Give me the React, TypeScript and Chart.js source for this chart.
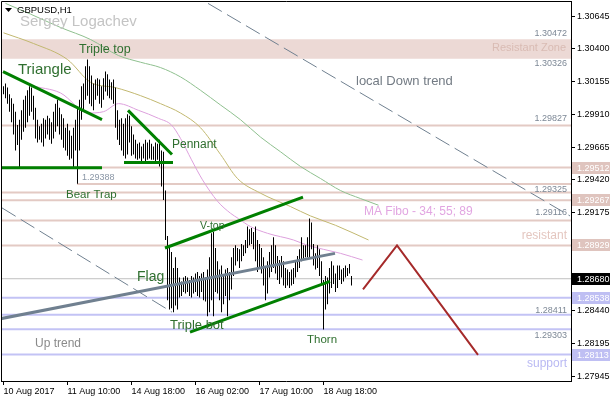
import React, { useEffect, useRef } from 'react';
import { Chart, registerables } from 'chart.js';

Chart.register(...registerables);

// ---------- data ----------
const xTickIndex = [0, 32, 64, 96, 128, 160];
const xTickLabels = ['10 Aug 2017', '11 Aug 10:00', '14 Aug 18:00', '16 Aug 02:00', '17 Aug 10:00', '18 Aug 18:00'];

const yTickValues = [1.30645, 1.304, 1.30155, 1.2991, 1.29665, 1.2942, 1.29175, 1.2844, 1.28195, 1.27945];
const yTickLabels = ['1.30645', '1.30400', '1.30155', '1.29910', '1.29665', '1.29420', '1.29175', '1.28440', '1.28195', '1.27945'];

const highs = [
  1.3012, 1.3014, 1.3011, 1.3006, 1.3003, 1.2999, 1.2993, 1.2983, 1.2987, 1.2994,
  1.3002, 1.3005, 1.3009, 1.3012, 1.3011, 1.3005, 1.2996, 1.2987, 1.2982, 1.2984,
  1.2988, 1.2987, 1.2990, 1.2988, 1.2985, 1.2993, 1.2999, 1.3002, 1.2996, 1.2991,
  1.2988, 1.2981, 1.2984, 1.2979, 1.2975, 1.2981, 1.2987, 1.2996, 1.3002, 1.3012,
  1.3014, 1.3027, 1.3032, 1.3027, 1.3020, 1.3014, 1.3017, 1.3018, 1.3017, 1.3012,
  1.3018, 1.3023, 1.3021, 1.3017, 1.3015, 1.3017, 1.3011, 1.2994, 1.2987, 1.2988,
  1.2984, 1.2988, 1.2991, 1.2990, 1.2982, 1.2976, 1.2972, 1.2969, 1.2970, 1.2967,
  1.2969, 1.2972, 1.2970, 1.2972, 1.2969, 1.2967, 1.2970, 1.2969, 1.2972, 1.2964,
  1.2963, 1.2934, 1.2900, 1.2893, 1.2888, 1.2876, 1.2884, 1.2876, 1.2869, 1.2866,
  1.2869, 1.2870, 1.2869, 1.2867, 1.2870, 1.2869, 1.2872, 1.2873, 1.2870, 1.2872,
  1.2873, 1.2869, 1.2875, 1.2884, 1.2902, 1.2903, 1.2891, 1.2881, 1.2875, 1.2878,
  1.2870, 1.2875, 1.2876, 1.2873, 1.2884, 1.2891, 1.2893, 1.2891, 1.2890, 1.2894,
  1.2893, 1.2897, 1.2907, 1.2905, 1.2906, 1.2903, 1.2907, 1.2897, 1.2894, 1.2891,
  1.2884, 1.2876, 1.2881, 1.2888, 1.2893, 1.2899, 1.2893, 1.2885, 1.2882, 1.2885,
  1.2881, 1.2876, 1.2875, 1.2873, 1.2875, 1.2876, 1.2881, 1.2885, 1.2890, 1.2899,
  1.2893, 1.2893, 1.2899, 1.2913, 1.2910, 1.2894, 1.2887, 1.2893, 1.2890, 1.2881,
  1.2867, 1.2870, 1.2869, 1.2876, 1.2881, 1.2878, 1.2872, 1.2878, 1.2878, 1.2875,
  1.2876, 1.2878, 1.2876, 1.2879, 1.2870,
];

const lows = [
  1.3006, 1.3003, 1.2999, 1.2993, 1.2985, 1.2976, 1.2964, 1.2968, 1.2951, 1.2972,
  1.2978, 1.2981, 1.2985, 1.2990, 1.2993, 1.2987, 1.2973, 1.2970, 1.2972, 1.2970,
  1.2967, 1.2973, 1.2976, 1.2972, 1.2969, 1.2973, 1.2978, 1.2982, 1.2976, 1.2972,
  1.2966, 1.2964, 1.2960, 1.2957, 1.2958, 1.2951, 1.2964, 1.2939, 1.2964, 1.2987,
  1.2993, 1.3002, 1.3005, 1.2999, 1.2997, 1.2994, 1.3002, 1.3005, 1.2999, 1.2996,
  1.3002, 1.3008, 1.3005, 1.3003, 1.3002, 1.2999, 1.2981, 1.2972, 1.2968, 1.2964,
  1.2960, 1.2958, 1.2961, 1.2970, 1.2960, 1.2961, 1.2958, 1.2957, 1.2958, 1.2955,
  1.2958, 1.2954, 1.2957, 1.2958, 1.2957, 1.2957, 1.2955, 1.2957, 1.2952, 1.2937,
  1.2927, 1.2897, 1.2852, 1.2845, 1.2846, 1.2843, 1.2848, 1.2845, 1.2854, 1.2855,
  1.2858, 1.2857, 1.2858, 1.2855, 1.2854, 1.2857, 1.2858, 1.2855, 1.2854, 1.2858,
  1.2852, 1.2851, 1.2840, 1.2843, 1.2852, 1.2840, 1.2858, 1.2857, 1.2852, 1.2843,
  1.2849, 1.2855, 1.2840, 1.2852, 1.2860, 1.2870, 1.2878, 1.2881, 1.2876, 1.2881,
  1.2885, 1.2887, 1.2891, 1.2893, 1.2894, 1.2890, 1.2881, 1.2873, 1.2876, 1.2872,
  1.2863, 1.2852, 1.2857, 1.2869, 1.2873, 1.2876, 1.2872, 1.2867, 1.2864, 1.2869,
  1.2863, 1.2861, 1.2863, 1.2861, 1.2863, 1.2864, 1.2869, 1.2873, 1.2876, 1.2881,
  1.2882, 1.2884, 1.2884, 1.2884, 1.2890, 1.2878, 1.2875, 1.2876, 1.2870, 1.2864,
  1.2830, 1.2845, 1.2849, 1.2857, 1.2861, 1.2864, 1.2858, 1.2861, 1.2867, 1.2864,
  1.2866, 1.2869, 1.2870, 1.2872, 1.2863,
];

// moving averages [bar index, price]
const ma89 = [[1, 1.3074], [13.5, 1.3066], [28.5, 1.3056], [43.5, 1.3047], [57.5, 1.3035], [68.5, 1.3030], [78.5, 1.3026], [88.5, 1.3019], [98.5, 1.3009], [108.5, 1.2998], [118.5, 1.2987], [128.5, 1.2974], [138.5, 1.2963], [148.5, 1.2952], [158.5, 1.2943], [168.5, 1.2934], [178.5, 1.2928], [187.5, 1.2923]];
const ma55 = [[0, 1.3052], [15, 1.3044], [32, 1.3032], [43.5, 1.3015], [56, 1.3011], [68.5, 1.3005], [78.5, 1.2999], [88.5, 1.2992], [98.5, 1.2981], [108.5, 1.2961], [117, 1.2943], [128.5, 1.2932], [143.5, 1.2922], [153.5, 1.2915], [166, 1.2908], [182.5, 1.2897]];
const ma34 = [[0, 1.3023], [13.5, 1.3013], [28.5, 1.3007], [42.5, 1.2992], [50, 1.2993], [57.5, 1.2999], [67.5, 1.2994], [77.5, 1.2988], [84, 1.2983], [88.5, 1.2973], [94, 1.2957], [99.5, 1.2942], [107, 1.2926], [113.5, 1.2917], [117.5, 1.2913], [123.5, 1.2907], [132, 1.2902], [145, 1.2897], [152, 1.2893], [160, 1.2890], [168.5, 1.2887], [179.5, 1.2882]];

// trend lines [bar index, price]
const triangleTop = [[-0.25, 1.3023], [49.25, 1.2987]];
const triangleBase = [[-0.75, 1.2951], [49.25, 1.2951]];
const pennantTop = [[62.25, 1.2994], [84.25, 1.2961]];
const pennantBase = [[60.25, 1.2955], [84.75, 1.2955]];
const flagTop = [[80.75, 1.2891], [149.75, 1.2929]];
const flagBase = [[93.25, 1.2828], [163.25, 1.2866]];
const upTrend = [[-1.75, 1.2838], [165.75, 1.2887]];
const downTrendUpper = [[102.25, 1.3074], [283.25, 1.2915]];
const downTrendLower = [[-0.75, 1.2921], [84.25, 1.2843]];
const forecastPath = [[179.75, 1.286], [196.75, 1.2893], [237.25, 1.2811]];

// horizontal levels
const resistZone = [1.30472, 1.30326];
const pinkLevels = [1.29827, 1.29512, 1.29325, 1.29267, 1.29116, 1.28929];
const bearTrapLevel = 1.29388;
const bearTrapStart = 36.75;
const blueLevels = [1.28538, 1.28411, 1.28303, 1.28113];
const lastPrice = 1.2868;

const pinkAxisLabels = [1.29512, 1.29267, 1.28929];
const blueAxisLabels = [1.28538, 1.28113];

// ---------- config ----------
const X_MIN = -1.25;
const X_MAX = 283.75;
const Y_MIN = 1.27915;
const Y_MAX = 1.30758;

const FONT = "'Liberation Sans', Arial, sans-serif";
const GREEN_TXT = '#2f6f2f';
const PINK = '#e3cac4';
const BLUE = '#c3c3f5';

const annotations = [
  { t: 'Triangle', i: 7.25, p: 1.30241, s: 15, c: GREEN_TXT, a: 'left' },
  { t: 'Triple top', i: 37.75, p: 1.30398, s: 12.5, c: GREEN_TXT, a: 'left' },
  { t: 'Pennant', i: 84.25, p: 1.2968, s: 12, c: GREEN_TXT, a: 'left' },
  { t: 'Bear Trap', i: 31.25, p: 1.29306, s: 11.5, c: GREEN_TXT, a: 'left' },
  { t: '1.29388', i: 39.25, p: 1.29434, s: 9, c: '#8a96a6', a: 'left' },
  { t: 'V-top', i: 98.25, p: 1.29075, s: 10.5, c: GREEN_TXT, a: 'left' },
  { t: 'Flag', i: 66.75, p: 1.28693, s: 14, c: GREEN_TXT, a: 'left' },
  { t: 'Triple bot', i: 83.25, p: 1.28334, s: 13, c: GREEN_TXT, a: 'left' },
  { t: 'Thorn', i: 151.75, p: 1.28222, s: 11.5, c: GREEN_TXT, a: 'left' },
  { t: 'Up trend', i: 15.75, p: 1.28192, s: 12, c: '#8a8a8a', a: 'left' },
  { t: 'local Down trend', i: 176.25, p: 1.30159, s: 13, c: '#737b84', a: 'left' },
  { t: 'MA Fibo - 34; 55; 89', i: 180.25, p: 1.29179, s: 12, c: '#e2a6e2', a: 'left' },
  { t: '1.30472', i: 281.75, p: 1.30518, s: 9, c: '#7d8896', a: 'right' },
  { t: 'Resistant Zone', i: 281.25, p: 1.30406, s: 11, c: '#d9bbb3', a: 'right' },
  { t: '1.30326', i: 281.75, p: 1.30294, s: 9, c: '#7d8896', a: 'right' },
  { t: '1.29827', i: 281.75, p: 1.29882, s: 9, c: '#7d8896', a: 'right' },
  { t: '1.29325', i: 281.75, p: 1.29344, s: 9, c: '#7d8896', a: 'right' },
  { t: '1.29116', i: 281.75, p: 1.29172, s: 9, c: '#7d8896', a: 'right' },
  { t: 'resistant', i: 281.75, p: 1.29, s: 12, c: '#e4c6bf', a: 'right' },
  { t: '1.28411', i: 281.75, p: 1.28439, s: 9, c: '#7d8896', a: 'right' },
  { t: '1.29303', i: 281.75, p: 1.28252, s: 9, c: '#7d8896', a: 'right' },
  { t: 'support', i: 281.75, p: 1.28042, s: 12, c: '#b9b9f3', a: 'right' },
];

const pts = (arr: number[][]) => arr.map(([x, y]) => ({ x, y }));
const hLine = (v: number, from: number = X_MIN) => [{ x: from, y: v }, { x: X_MAX, y: v }];

const overlay = {
  id: 'overlay',
  afterDraw(chart: any) {
    const { ctx, chartArea: a, scales } = chart;
    const xs = scales.x;
    const ys = scales.y;
    ctx.save();
    // frame
    ctx.strokeStyle = '#000';
    ctx.lineWidth = 1;
    ctx.beginPath();
    ctx.moveTo(a.left + 0.5, a.bottom);
    ctx.lineTo(a.left + 0.5, a.top + 0.5);
    ctx.lineTo(a.right, a.top + 0.5);
    ctx.stroke();

    // header
    ctx.fillStyle = '#000';
    ctx.beginPath();
    ctx.moveTo(a.left + 4, a.top + 7);
    ctx.lineTo(a.left + 11, a.top + 7);
    ctx.lineTo(a.left + 7.5, a.top + 11);
    ctx.closePath();
    ctx.fill();
    ctx.textBaseline = 'middle';
    ctx.textAlign = 'left';
    ctx.font = `9.5px ${FONT}`;
    ctx.fillText('GBPUSD,H1', a.left + 16, a.top + 9);
    ctx.fillStyle = '#c4c4c4';
    ctx.font = `15px ${FONT}`;
    ctx.fillText('Sergey Logachev', a.left + 19, a.top + 21);

    // annotations
    for (const an of annotations) {
      ctx.font = `${an.s}px ${FONT}`;
      ctx.fillStyle = an.c;
      ctx.textAlign = an.a;
      ctx.fillText(an.t, xs.getPixelForValue(an.i), ys.getPixelForValue(an.p));
    }

    // axis price labels
    const W = chart.width;
    const drawLabel = (v: number, bg: string) => {
      const py = Math.round(ys.getPixelForValue(v));
      ctx.fillStyle = bg;
      ctx.fillRect(a.right + 1, py - 6, W - a.right - 1, 12);
      ctx.fillStyle = '#fff';
      ctx.textAlign = 'left';
      ctx.font = `9px ${FONT}`;
      ctx.fillText(v.toFixed(5), a.right + 6, py + 0.5);
    };
    pinkAxisLabels.forEach((v) => drawLabel(v, '#dfc4be'));
    blueAxisLabels.forEach((v) => drawLabel(v, '#bfbff3'));
    drawLabel(lastPrice, '#000');
    ctx.restore();
  },
};

export default function App() {
  const ref = useRef<HTMLCanvasElement | null>(null);
  useEffect(() => {
    document.body.style.margin = '0';
    const canvas = ref.current;
    if (!canvas) return;

    const trend = (data: number[][], color: string, width: number, dash: number[] = []) => ({
      type: 'line',
      data: pts(data),
      borderColor: color,
      borderWidth: width,
      borderDash: dash,
      pointRadius: 0,
      fill: false,
      tension: 0,
      order: 0,
    });
    const ma = (data: number[][], color: string) => ({
      type: 'line',
      data: pts(data),
      borderColor: color,
      borderWidth: 1,
      pointRadius: 0,
      fill: false,
      cubicInterpolationMode: 'monotone',
      order: 2,
    });
    const level = (v: number, color: string, width: number, from?: number) => ({
      type: 'line',
      data: hLine(v, from),
      borderColor: color,
      borderWidth: width,
      pointRadius: 0,
      fill: false,
      order: 3,
    });

    const datasets: any[] = [
      trend(triangleTop, '#008000', 3),
      trend(triangleBase, '#008000', 3),
      trend(pennantTop, '#008000', 3),
      trend(pennantBase, '#008000', 3),
      trend(flagTop, '#008000', 3),
      trend(flagBase, '#008000', 3),
      trend(upTrend, '#708090', 3),
      trend(downTrendUpper, '#708090', 1, [16, 6]),
      trend(downTrendLower, '#708090', 1, [16, 6]),
      trend(forecastPath, '#a52a2a', 2),
      {
        type: 'bar',
        data: highs.map((h, i) => ({ x: i, y: [lows[i], h] })),
        backgroundColor: '#000',
        borderWidth: 0,
        barThickness: 1,
        grouped: false,
        inflateAmount: 0,
        order: 1,
      },
      ma(ma89, '#8fc08f'),
      ma(ma55, '#c2b870'),
      ma(ma34, '#dda0dd'),
      ...pinkLevels.map((v) => level(v, PINK, 2)),
      level(bearTrapLevel, PINK, 2, bearTrapStart),
      ...blueLevels.map((v) => level(v, BLUE, 2)),
      level(lastPrice, '#c0c0c0', 1),
      {
        type: 'line',
        data: hLine(resistZone[0]),
        borderWidth: 0,
        pointRadius: 0,
        backgroundColor: '#ecd9d5',
        fill: '+1',
        order: 4,
      },
      {
        type: 'line',
        data: hLine(resistZone[1]),
        borderWidth: 0,
        pointRadius: 0,
        fill: false,
        order: 4,
      },
    ];

    const chart = new Chart(canvas, {
      type: 'line',
      data: { datasets },
      plugins: [overlay],
      options: {
        animation: false,
        responsive: false,
        devicePixelRatio: 1,
        events: [],
        layout: { padding: { top: 1, left: 1, right: 0, bottom: 0 } },
        plugins: { legend: { display: false }, tooltip: { enabled: false } },
        scales: {
          x: {
            type: 'linear',
            position: 'bottom',
            min: X_MIN,
            max: X_MAX,
            offset: false,
            afterBuildTicks: (s: any) => {
              s.ticks = xTickIndex.map((v) => ({ value: v }));
            },
            afterFit: (s: any) => {
              s.height = 19;
              s.paddingLeft = 0;
              s.paddingRight = 0;
            },
            ticks: {
              autoSkip: false,
              maxRotation: 0,
              align: 'start',
              padding: 1,
              color: '#000',
              font: { family: FONT, size: 9 },
              callback: (_v: any, idx: number) => xTickLabels[idx],
            },
            grid: { drawOnChartArea: false, drawTicks: true, tickLength: 4, color: '#000', offset: false },
            border: { display: true, color: '#000' },
          },
          y: {
            type: 'linear',
            position: 'right',
            min: Y_MIN,
            max: Y_MAX,
            beginAtZero: false,
            afterBuildTicks: (s: any) => {
              s.ticks = yTickValues.map((v) => ({ value: v }));
            },
            afterFit: (s: any) => {
              s.width = 39;
              s.paddingTop = 0;
              s.paddingBottom = 0;
            },
            ticks: {
              autoSkip: false,
              padding: 2,
              color: '#000',
              font: { family: FONT, size: 9 },
              callback: (_v: any, idx: number) => yTickLabels[idx],
            },
            grid: { drawOnChartArea: false, drawTicks: true, tickLength: 4, color: '#000' },
            border: { display: true, color: '#000' },
          },
        },
      } as any,
    } as any);
    return () => chart.destroy();
  }, []);

  return (
    <canvas
      ref={ref}
      width={610}
      height={400}
      style={{ display: 'block', width: 610, height: 400 }}
    />
  );
}
